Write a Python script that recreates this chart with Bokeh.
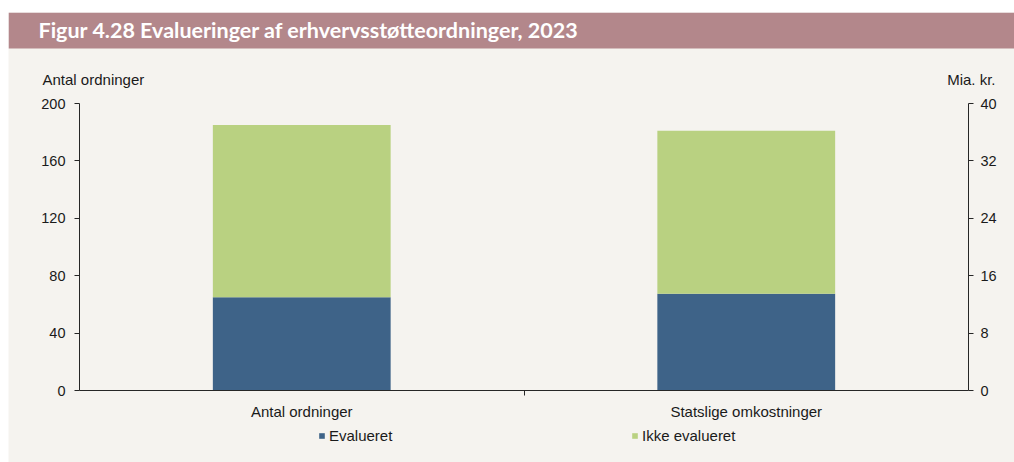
from bokeh.plotting import figure
from bokeh.models import (Range1d, LinearAxis, FixedTicker, Legend, Label,
                          LegendItem, ColumnDataSource, BoxAnnotation)
from bokeh.embed import file_html
from bokeh.resources import INLINE

# ---- data ----
categories = ["Antal ordninger", "Statslige omkostninger"]
series = ["Evalueret", "Ikke evalueret"]
evalueret = [65, 13.5]          # antal / mia. kr.
ikke_evalueret = [120, 22.7]    # antal / mia. kr.
left_ticks = [0, 40, 80, 120, 160, 200]
right_ticks = [0, 8, 16, 24, 32, 40]
title_text = "Figur 4.28  Evalueringer af erhvervsstøtteordninger, 2023"
left_unit = "Antal ordninger"
right_unit = "Mia. kr."

# ---- style / layout (page pixels) ----
BLUE = "#3e6388"
GREEN = "#b9d181"
BG = "#f5f3ef"
TITLE_BG = "#b3878b"
TXT = "#1a1a1a"
AX = "#262626"
FONT = "Liberation Sans"

PAGE_L, PAGE_T, PAGE_R, PAGE_B = 8, 12, 1014, 462    # canvas on page
AX_L, AX_R = 79, 968                                 # plot area x (page)
AX_B, AX_T = 390, 103                                # plot area y (page)
W, H = PAGE_R - PAGE_L, PAGE_B - PAGE_T

ncat = len(categories)
sx = (AX_R - AX_L) / ncat
def X(px):
    return (px - AX_L) / sx

def Yf(px, top_val):
    return (AX_B - px) / ((AX_B - AX_T) / top_val)

def Y(px):
    return Yf(px, left_ticks[-1])

positions = [i + 0.5 for i in range(ncat)]

p = figure(width=W, height=H,
           x_range=Range1d(X(PAGE_L), X(PAGE_R)),
           y_range=Range1d(Y(PAGE_B), Y(PAGE_T)),
           output_backend="svg", toolbar_location=None,
           min_border_left=0, min_border_right=0,
           min_border_top=0, min_border_bottom=0)
p.margin = (PAGE_T, 0, 0, PAGE_L)
p.extra_y_ranges = {"right": Range1d(Yf(PAGE_B, right_ticks[-1]), Yf(PAGE_T, right_ticks[-1]))}
p.background_fill_color = BG
p.border_fill_color = BG
p.outline_line_color = None
p.xgrid.visible = False
p.ygrid.visible = False

src_left = ColumnDataSource(dict(x=[positions[0]], ev=[evalueret[0]], ik=[ikke_evalueret[0]]))
src_right = ColumnDataSource(dict(x=[positions[1]], ev=[evalueret[1]], ik=[ikke_evalueret[1]]))

r_left = p.vbar_stack(["ev", "ik"], x="x", width=0.4, color=[BLUE, GREEN],
                      line_color=None, source=src_left)
r_right = p.vbar_stack(["ev", "ik"], x="x", width=0.4, color=[BLUE, GREEN],
                       line_color=None, source=src_right, y_range_name="right")

# x axis
xa = p.xaxis[0]
xa.fixed_location = 0
xa.bounds = (0, ncat)
xa.ticker = FixedTicker(ticks=positions, minor_ticks=[1.0])
xa.major_label_overrides = {pos: c for pos, c in zip(positions, categories)}
xa.major_tick_out = 0
xa.major_tick_in = 0
xa.minor_tick_out = 5
xa.minor_tick_in = 0
xa.minor_tick_line_color = AX
xa.axis_line_color = AX
xa.major_label_standoff = 7
xa.major_label_text_font = FONT
xa.major_label_text_font_size = "15px"
xa.major_label_text_color = TXT

# left axis
ya = p.yaxis[0]
ya.fixed_location = 0
ya.bounds = (left_ticks[0], left_ticks[-1])
ya.ticker = FixedTicker(ticks=left_ticks)
ya.minor_tick_out = 0
ya.minor_tick_in = 0
ya.major_tick_out = 5
ya.major_tick_in = 0
ya.major_tick_line_color = AX
ya.axis_line_color = AX
ya.major_label_standoff = 9
ya.major_label_text_font = FONT
ya.major_label_text_font_size = "14.5px"
ya.major_label_text_color = TXT

# right axis
ra = LinearAxis(y_range_name="right", ticker=FixedTicker(ticks=right_ticks),
                fixed_location=ncat, bounds=(right_ticks[0], right_ticks[-1]))
ra.minor_tick_out = 0
ra.minor_tick_in = 0
ra.major_tick_out = 5
ra.major_tick_in = 0
ra.major_tick_line_color = AX
ra.axis_line_color = AX
ra.major_label_standoff = 7
ra.major_label_text_font = FONT
ra.major_label_text_font_size = "14.5px"
ra.major_label_text_color = TXT
p.add_layout(ra, "right")

# title bar
p.add_layout(BoxAnnotation(left=X(PAGE_L), right=X(PAGE_R), bottom=Y(48), top=Y(PAGE_T),
                           fill_color=TITLE_BG, fill_alpha=1, line_color=None,
                           level="underlay"))
p.add_layout(Label(x=X(38), y=Y(29.5), text=title_text, text_font="Lato",
                   text_font_style="bold", text_font_size="21.5px",
                   text_color="white", text_baseline="middle", text_align="left"))

# unit labels
p.add_layout(Label(x=X(42), y=Y(79), text=left_unit, text_font=FONT,
                   text_font_size="15px", text_color=TXT,
                   text_baseline="middle", text_align="left"))
p.add_layout(Label(x=X(995), y=Y(79), text=right_unit, text_font=FONT,
                   text_font_size="15px", text_color=TXT,
                   text_baseline="middle", text_align="right"))

# series legends (one per item, placed individually)
for name, rend, left_px in [(series[0], r_left[0], 318), (series[1], r_left[1], 631)]:
    leg = Legend(items=[LegendItem(label=name, renderers=[rend])],
                 location=(left_px - PAGE_L, PAGE_B - 435.5 - 8.5),
                 orientation="horizontal",
                 glyph_width=7, glyph_height=7, label_standoff=4,
                 padding=0, margin=0, spacing=0,
                 border_line_color=None, background_fill_alpha=0,
                 label_text_font=FONT, label_text_font_size="15px",
                 label_text_color=TXT, label_height=17)
    p.add_layout(leg, "center")

open("out.html", "w").write(file_html(p, INLINE))
